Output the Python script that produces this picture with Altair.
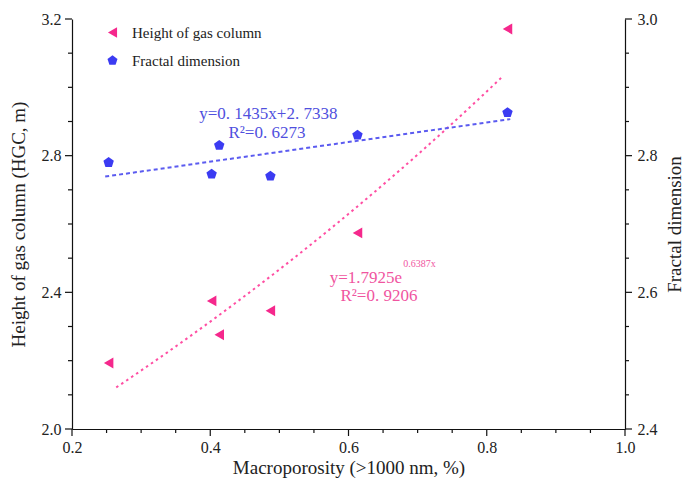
import altair as alt
import pandas as pd

FONT = "Liberation Serif"

# Macroporosity (>1000 nm, %) of the six samples
macroporosity = [0.253, 0.402, 0.413, 0.487, 0.613, 0.830]
# Height of gas column (HGC, m)
gas_column = [2.193, 2.375, 2.276, 2.346, 2.574, 3.171]
# Fractal dimension
fractal_dim = [2.790, 2.773, 2.815, 2.770, 2.830, 2.863]

series_names = ["Height of gas column", "Fractal dimension"]
series_colors = ["#F5288C", "#3B3BF2"]
line_colors = ["#FF4FA3", "#5B5BF0"]
text_colors = ["#F0559F", "#5050DE"]
pentagon = "M0,-1L0.951,-0.309L0.588,0.809L-0.588,0.809L-0.951,-0.309Z"

# Fitted relations and the x span over which they are drawn
exp_a, exp_b = 1.7925, 0.6387
exp_span = [0.264, 0.823]
lin_k, lin_c = 0.1435, 2.7338
lin_span = [0.248, 0.834]

# Equation annotations (left-axis coordinates)
eq_text = ["y=0. 1435x+2. 7338", "R\u00b2=0. 6273", "R\u00b2=0. 9206"]
eq_x = [0.484, 0.482, 0.644]
eq_y = [2.922, 2.866, 2.389]
eq_color = [text_colors[1], text_colors[1], text_colors[0]]
exp_main = "y=1.7925e"
exp_sup = "0.6387x"
exp_pos = [0.6776, 2.443, 2.483]

# Axis ticks: labelled major ticks and short unlabelled minor ticks
x_major = [0.2, 0.4, 0.6, 0.8, 1.0]
x_minor = [0.25, 0.3, 0.35, 0.45, 0.5, 0.55, 0.65, 0.7, 0.75, 0.85, 0.9, 0.95]
yl_major = [2.0, 2.4, 2.8, 3.2]
yl_minor = [2.1, 2.2, 2.3, 2.5, 2.6, 2.7, 2.9, 3.0, 3.1]
yr_major = [2.4, 2.6, 2.8, 3.0]
yr_minor = [2.45, 2.5, 2.55, 2.65, 2.7, 2.75, 2.85, 2.9, 2.95]

W, H = 553, 410
MAJOR_LEN, MINOR_LEN = 7, 4

hgc_df = pd.DataFrame({"x": macroporosity, "hgc": gas_column, "series": series_names[0]})
fd_df = pd.DataFrame({"x": macroporosity, "fd": fractal_dim, "series": series_names[1]})
eq_df = pd.DataFrame({"x": eq_x, "y": eq_y, "t": eq_text, "c": eq_color})

axis_style = dict(
    grid=False, ticks=False, tickSize=0, domainWidth=1.2,
    labelFont=FONT, labelColor="#222", format=".1f",
    titleFont=FONT, titleFontSize=19, titleFontWeight="normal", titleColor="#222",
    labelOverlap=False,
)

x_axis = alt.Axis(values=x_major, orient="bottom", title="Macroporosity (>1000 nm, %)",
                  labelFlush=False, labelPadding=10, titlePadding=3, **axis_style)
yl_axis = alt.Axis(values=yl_major, orient="left", title="Height of gas column (HGC, m)",
                   labelPadding=11, titlePadding=13, **axis_style)
yr_axis = alt.Axis(values=yr_major, orient="right", title="Fractal dimension",
                   labelPadding=12, titlePadding=8, titleAngle=-90, titleBaseline="top", **axis_style)

x_scale = alt.Scale(domain=[0.2, 1.0], nice=False, zero=False)
yl_scale = alt.Scale(domain=[2.0, 3.2], nice=False, zero=False)
yr_scale = alt.Scale(domain=[2.4, 3.0], nice=False, zero=False)

legend = alt.Legend(
    title=None, orient="none", legendX=33, legendY=6, padding=0,
    labelFont=FONT, labelFontSize=15, labelColor="#222", labelOffset=12,
    symbolSize=110, rowPadding=12, symbolStrokeWidth=0, symbolOpacity=1,
)
color_enc = alt.Color("series:N", scale=alt.Scale(domain=series_names, range=series_colors), legend=legend)
shape_enc = alt.Shape("series:N", scale=alt.Scale(domain=series_names, range=["triangle-left", pentagon]), legend=legend)

X = alt.X("x:Q", scale=x_scale, axis=x_axis)
X_noaxis = alt.X("x:Q", scale=x_scale, axis=None)
YL = alt.Y("hgc:Q", scale=yl_scale, axis=yl_axis)
YR = alt.Y("fd:Q", scale=yr_scale, axis=yr_axis)

tick_mark = dict(color="#111", strokeWidth=1.2)


def x_ticks(values, length):
    return alt.Chart(pd.DataFrame({"x": values})).mark_rule(**tick_mark).encode(
        x=X, y=alt.value(H), y2=alt.value(H + length)
    )


def yl_ticks(values, length):
    return alt.Chart(pd.DataFrame({"hgc": values})).mark_rule(**tick_mark).encode(
        y=YL, x=alt.value(0), x2=alt.value(-length)
    )


def yr_ticks(values, length):
    return alt.Chart(pd.DataFrame({"fd": values})).mark_rule(**tick_mark).encode(
        y=YR, x=alt.value(W), x2=alt.value(W + length)
    )


# --- height of gas column, left axis ---
hgc_points = alt.Chart(hgc_df).mark_point(filled=True, size=120, opacity=1).encode(
    x=X, y=YL, color=color_enc, shape=shape_enc
)
exp_step = (exp_span[1] - exp_span[0]) / 120
exp_line = (
    alt.Chart(alt.sequence(exp_span[0], exp_span[1] + exp_step / 2, exp_step, as_="x"))
    .transform_calculate(hgc=f"{exp_a}*exp({exp_b}*datum.x)")
    .mark_line(color=line_colors[0], strokeWidth=2, strokeDash=[2.5, 3.5])
    .encode(x=X, y=YL)
)
eq_labels = alt.Chart(eq_df).mark_text(font=FONT, fontSize=17, align="center", baseline="middle").encode(
    x=X, y=alt.Y("y:Q", scale=yl_scale, axis=yl_axis), text="t:N", color=alt.Color("c:N", scale=None)
)
exp_df = pd.DataFrame({"x": [exp_pos[0]], "y": [exp_pos[1]], "ys": [exp_pos[2]], "t": [exp_main], "s": [exp_sup]})
exp_main_text = alt.Chart(exp_df).mark_text(
    font=FONT, fontSize=17, align="right", baseline="middle", color=text_colors[0]
).encode(x=X, y=alt.Y("y:Q", scale=yl_scale, axis=yl_axis), text="t:N")
exp_sup_text = alt.Chart(exp_df).mark_text(
    font=FONT, fontSize=10, align="left", baseline="middle", dx=1, color=text_colors[0]
).encode(x=X, y=alt.Y("ys:Q", scale=yl_scale, axis=yl_axis), text="s:N")

left = alt.layer(
    exp_line, hgc_points, eq_labels, exp_main_text, exp_sup_text,
    x_ticks(x_major, MAJOR_LEN), x_ticks(x_minor, MINOR_LEN),
    yl_ticks(yl_major, MAJOR_LEN), yl_ticks(yl_minor, MINOR_LEN),
)

# --- fractal dimension, right axis ---
fd_points = alt.Chart(fd_df).mark_point(filled=True, size=120, opacity=1).encode(
    x=X_noaxis, y=YR, color=color_enc, shape=shape_enc
)
lin_step = (lin_span[1] - lin_span[0]) / 20
lin_line = (
    alt.Chart(alt.sequence(lin_span[0], lin_span[1] + lin_step / 2, lin_step, as_="x"))
    .transform_calculate(fd=f"{lin_k}*datum.x+{lin_c}")
    .mark_line(color=line_colors[1], strokeWidth=2, strokeDash=[4, 3])
    .encode(x=X_noaxis, y=YR)
)
right = alt.layer(lin_line, fd_points, yr_ticks(yr_major, MAJOR_LEN), yr_ticks(yr_minor, MINOR_LEN))

chart = (
    alt.layer(left, right)
    .resolve_scale(x="independent", y="independent")
    .properties(
        width=W,
        height=H,
        autosize=alt.AutoSizeParams(type="none"),
        padding={"left": 72, "top": 19, "right": 61, "bottom": 59},
        background="white",
    )
    .configure_view(stroke=None)
    .configure_axis(labelFontSize=16, domainColor="#111")
)

chart.save("out.html", embed_options={"renderer": "svg", "actions": False})
